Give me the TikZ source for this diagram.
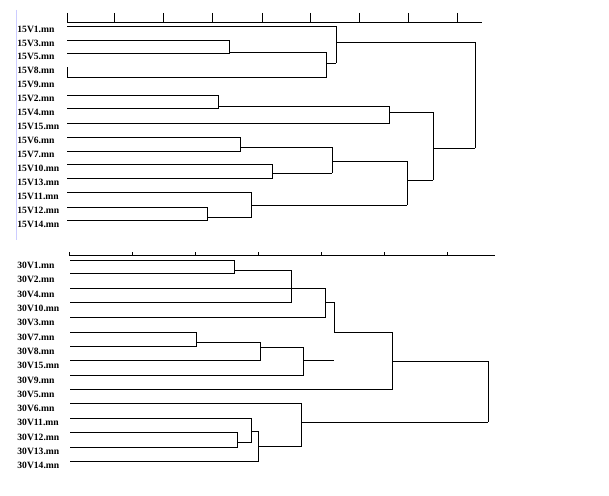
\documentclass[tikz,border=0pt]{standalone}
\usepackage{fontspec}
\setmainfont{Liberation Serif}
\begin{document}
\begin{tikzpicture}[x=1pt, y=-1pt, line width=0.8pt,
  leaf/.style={anchor=west, inner sep=0pt, font=\fontsize{9.6}{9.6}\selectfont\bfseries}]
  \useasboundingbox (0,0) rectangle (609,495);
  \draw[blue!20, line width=1pt] (16,10) -- (16,240);

  % Upper tree: axis and ticks
  \draw (67,22) -- (482,22);
  \foreach \t in {67,114,163,212,262,310,359,408,457}
    \draw (\t,13) -- (\t,22);

  % Upper tree: labels
  \foreach \n [count=\i from 0] in {1,3,5,8,9,2,4,15,6,7,10,13,11,12,14}
    \node[leaf] (a\n) at (17,{29+13.95*\i}) {15V\n.mn};

  % Upper tree: branches
  \draw (67,26) -| (336,63);
  \draw (67,40) -| (229,53) -- (67,53);
  \draw (229,52) -| (326,77) -- (67,77);
  \draw (67,67) -- (67,77);
  \draw (326,63) -- (336,63);
  \draw (336,42) -| (475,148);
  \draw (67,95) -| (218,108) -- (67,108);
  \draw (218,106) -| (389,123) -- (67,123);
  \draw (389,112) -| (433,180);
  \draw (67,137) -| (240,151) -- (67,151);
  \draw (240,147) -| (332,173);
  \draw (67,164) -| (272,178) -- (67,178);
  \draw (272,173) -- (332,173);
  \draw (332,161) -| (407,205);
  \draw (67,207) -| (207,220) -- (67,220);
  \draw (67,192) -| (251,217) -- (207,217);
  \draw (251,205) -- (407,205);
  \draw (407,180) -- (433,180);
  \draw (433,148) -- (475,148);

  % Lower tree: axis and ticks
  \draw (69,255) -- (495,255);
  \foreach \t in {69,132,195,258,321,384,447}
    \draw (\t,252) -- (\t,255);

  % Lower tree: labels
  \foreach \n [count=\i from 0] in {1,2,4,10,3,7,8,15,9,5,6,11,12,13,14}
    \node[leaf] (b\n) at (17,{265.5+14.3*\i}) {30V\n.mn};

  % Lower tree: branches
  \draw (70,260) -| (234,273) -- (70,273);
  \draw (234,270) -| (291,302) -- (70,302);
  \draw (70,288) -- (325,288) |- (70,317);
  \draw (325,302) -| (334,332);
  \draw (70,332) -| (196,346) -- (70,346);
  \draw (196,342) -| (260,360) -- (70,360);
  \draw (260,347) -| (303,375) -- (70,375);
  \draw (303,360) -- (334,360);
  \draw (334,332) -| (392,389) -- (70,389);
  \draw (392,361) -| (488,422);
  \draw (70,432) -| (237,447) -- (70,447);
  \draw (70,418) -| (251,442) -- (237,442);
  \draw (251,431) -| (258,461) -- (70,461);
  \draw (258,446) -| (301,403) -- (70,403);
  \draw (301,422) -- (488,422);
\end{tikzpicture}
\end{document}
